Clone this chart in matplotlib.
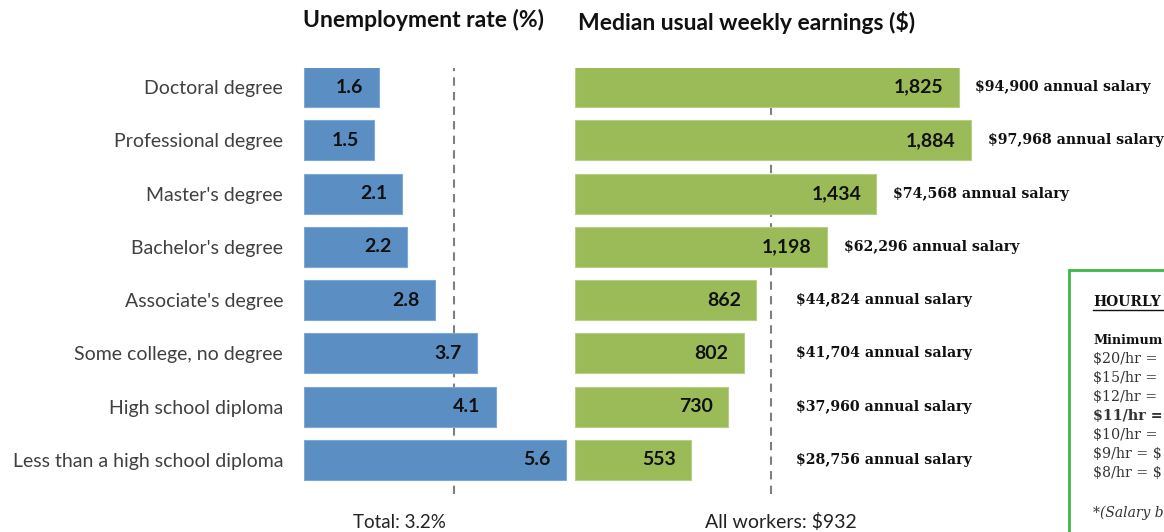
import matplotlib
matplotlib.use("Agg")
import matplotlib.pyplot as plt
from matplotlib.patches import Rectangle

plt.rcParams["text.parse_math"] = False

# data
categories = [
    "Doctoral degree",
    "Professional degree",
    "Master's degree",
    "Bachelor's degree",
    "Associate's degree",
    "Some college, no degree",
    "High school diploma",
    "Less than a high school diploma",
]
unemployment = [1.6, 1.5, 2.1, 2.2, 2.8, 3.7, 4.1, 5.6]
earnings = [1825, 1884, 1434, 1198, 862, 802, 730, 553]
earning_labels = ["1,825", "1,884", "1,434", "1,198", "862", "802", "730", "553"]
salaries = ["$94,900", "$97,968", "$74,568", "$62,296",
            "$44,824", "$41,704", "$37,960", "$28,756"]
total_rate = 3.2
all_workers = 932

# the box is cut off by the right edge in the original, only the visible part is kept
hourly_lines = [
    ("$20/hr =", "normal"),
    ("$15/hr =", "normal"),
    ("$12/hr =", "normal"),
    ("$11/hr =", "bold"),
    ("$10/hr =", "normal"),
    ("$9/hr = $", "normal"),
    ("$8/hr = $", "normal"),
]

blue = "#5B8EC2"
green = "#9BBB59"
sans = ["Lato", "DejaVu Sans"]
serif = ["DejaVu Serif"]

W, H = 1164, 532
fig = plt.figure(figsize=(W / 100, H / 100), dpi=100)

ax_top, ax_bot = 68, 494
rows = list(range(len(categories)))
ylim = (7.64, -0.36)

# left panel: unemployment rate
ax1 = fig.add_axes([304 / W, 1 - ax_bot / H, 266.8 / W, (ax_bot - ax_top) / H])
ax1.barh(rows, unemployment, height=0.75, color=blue, edgecolor="#7FA8D4", linewidth=0.8)
ax1.axvline(total_rate, color="#7f7f7f", linestyle=(0, (4, 3)), linewidth=1.5, zorder=0)
ax1.set_xlim(0, 5.7)
ax1.set_ylim(*ylim)
for i, v in enumerate(unemployment):
    ax1.annotate(f"{v:.1f}", (v, i), xytext=(-11, 0), textcoords="offset points",
                 ha="right", va="center", fontsize=14, fontweight="bold",
                 family=sans, color="#111111")
ax1.set_yticks(rows)
ax1.set_yticklabels(categories, family=sans, fontsize=14, color="#404040")
ax1.tick_params(axis="y", length=0, pad=15)
ax1.set_xticks([])
for s in ax1.spines.values():
    s.set_visible(False)

# right panel: weekly earnings
ax2 = fig.add_axes([575 / W, 1 - ax_bot / H, 483.5 / W, (ax_bot - ax_top) / H])
ax2.barh(rows, earnings, height=0.75, color=green, edgecolor="#B5CF86", linewidth=0.8)
ax2.axvline(all_workers, color="#7f7f7f", linestyle=(0, (4, 3)), linewidth=1.5, zorder=0)
ax2.set_xlim(0, 2300)
ax2.set_ylim(*ylim)
for i, (v, lab, sal) in enumerate(zip(earnings, earning_labels, salaries)):
    ax2.annotate(lab, (v, i), xytext=(-11, 0), textcoords="offset points",
                 ha="right", va="center", fontsize=14, fontweight="bold",
                 family=sans, color="#111111")
    ax2.text(max(v + 80, 1050), i, f"{sal} annual salary", ha="left", va="center",
             fontsize=10.2, fontweight="bold", family=serif, color="#111111")
ax2.set_xticks([])
ax2.set_yticks([])
for s in ax2.spines.values():
    s.set_visible(False)

# titles and footers
fig.text(303 / W, 1 - 20 / H, "Unemployment rate (%)", ha="left", va="center",
         fontsize=16.5, fontweight="bold", family=sans, color="#111111")
fig.text(578 / W, 1 - 22 / H, "Median usual weekly earnings ($)", ha="left", va="center",
         fontsize=16.5, fontweight="bold", family=sans, color="#111111")
fig.text(399 / W, 1 - 522 / H, f"Total: {total_rate}%", ha="center", va="center",
         fontsize=13.5, family=sans, color="#222222")
fig.text(781 / W, 1 - 522 / H, f"All workers: ${all_workers}", ha="center", va="center",
         fontsize=14, family=sans, color="#222222")

# hourly wage box (cut off at the right edge)
fig.patches.append(Rectangle((1069 / W, -0.05), 0.2, 1 - 270 / H + 0.05,
                             transform=fig.transFigure, fill=False,
                             edgecolor="#3DB54A", linewidth=2))
fig.text(1093 / W, 1 - 302 / H, "HOURLY", ha="left", va="center",
         fontsize=10, fontweight="bold", family=serif, color="#111111")
fig.add_artist(plt.Line2D([1093 / W, 1.0], [1 - 310 / H] * 2, color="#111111", linewidth=1))
fig.text(1093 / W, 1 - 340 / H, "Minimum", ha="left", va="center",
         fontsize=9.2, fontweight="bold", family=serif, color="#111111")
for k, (line, weight) in enumerate(hourly_lines):
    fig.text(1093 / W, 1 - (359 + 19 * k) / H, line, ha="left", va="center",
             fontsize=10.3, fontweight=weight, family=serif, color="#333333")
fig.text(1093 / W, 1 - 513 / H, "*(Salary b", ha="left", va="center",
         fontsize=10, fontstyle="italic", family=serif, color="#333333")

fig.savefig("out.png", dpi=100)
